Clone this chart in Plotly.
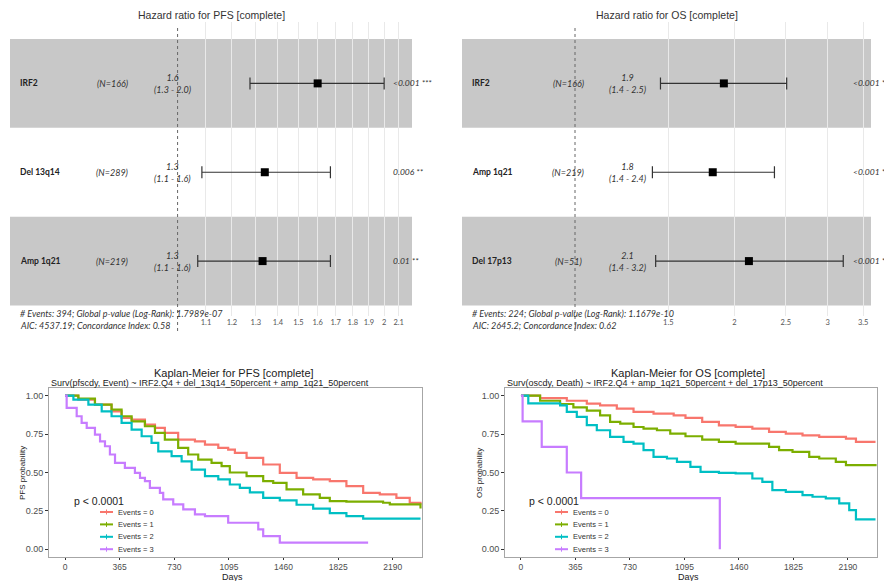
import plotly.graph_objects as go

W, H = 884, 581


def px(x):
    return x / W


def py(y):
    return 1 - y / H


# ---------------- Forest plot data ----------------
pfs_title = "Hazard ratio for PFS [complete]"
pfs_vars = ["IRF2", "Del 13q14", "Amp 1q21"]
pfs_n = ["(N=166)", "(N=289)", "(N=219)"]
pfs_hr = [1.60, 1.34, 1.33]
pfs_lo = [1.275, 1.085, 1.07]
pfs_hi = [2.00, 1.67, 1.67]
pfs_hr_label = ["1.6", "1.3", "1.3"]
pfs_ci_label = ["(1.3 - 2.0)", "(1.1 - 1.6)", "(1.1 - 1.6)"]
pfs_p = ["<0.001 ***", "0.006 **", "0.01 **"]
pfs_ticks = [1.1, 1.2, 1.3, 1.4, 1.5, 1.6, 1.7, 1.8, 1.9, 2.0, 2.1]
pfs_ticktext = ["1.1", "1.2", "1.3", "1.4", "1.5", "1.6", "1.7", "1.8", "1.9", "2", "2.1"]
pfs_footer = ["# Events: 394; Global p-value (Log-Rank): 1.7989e-07",
              "AIC: 4537.19; Concordance Index: 0.58"]

os_title = "Hazard ratio for OS [complete]"
os_vars = ["IRF2", "Amp 1q21", "Del 17p13"]
os_n = ["(N=166)", "(N=219)", "(N=51)"]
os_hr = [1.91, 1.82, 2.13]
os_lo = [1.45, 1.40, 1.42]
os_hi = [2.51, 2.38, 3.21]
os_hr_label = ["1.9", "1.8", "2.1"]
os_ci_label = ["(1.4 - 2.5)", "(1.4 - 2.4)", "(1.4 - 3.2)"]
os_p = ["<0.001 *", "<0.001 *", "<0.001 *"]
os_ticks = [1.5, 2.0, 2.5, 3.0, 3.5]
os_ticktext = ["1.5", "2", "2.5", "3", "3.5"]
os_footer = ["# Events: 224; Global p-value (Log-Rank): 1.1679e-10",
             "AIC: 2645.2; Concordance Index: 0.62"]

# ---------------- Kaplan-Meier data ----------------
group_labels = ["Events = 0", "Events = 1", "Events = 2", "Events = 3"]
group_colors = ["#F8766D", "#7CAE00", "#00BFC4", "#C77CFF"]
day_ticks = [0, 365, 730, 1095, 1460, 1825, 2190]
prob_ticks = [0, 0.25, 0.5, 0.75, 1.0]
prob_ticktext = ["0.00", "0.25", "0.50", "0.75", "1.00"]

km_pfs_title = "Kaplan-Meier for PFS [complete]"
km_pfs_sub = "Surv(pfscdy, Event) ~ IRF2.Q4 + del_13q14_50percent + amp_1q21_50percent"
km_os_title = "Kaplan-Meier for OS [complete]"
km_os_sub = "Surv(oscdy, Death) ~ IRF2.Q4 + amp_1q21_50percent + del_17p13_50percent"

pfs_t0 = [0, 89, 200, 311, 378, 445, 534, 601, 667, 756, 868, 935, 1024, 1090, 1135,
          1213, 1324, 1435, 1547, 1658, 1769, 1880, 1992, 2103, 2214, 2303, 2375]
pfs_s0 = [1.0, 0.974, 0.942, 0.898, 0.855, 0.844, 0.812, 0.790, 0.758, 0.714, 0.703,
          0.682, 0.660, 0.649, 0.628, 0.595, 0.552, 0.498, 0.465, 0.455, 0.444, 0.411,
          0.368, 0.357, 0.335, 0.303, 0.292]
pfs_t1 = [0, 89, 200, 311, 378, 445, 534, 601, 667, 756, 823, 890, 979, 1046, 1101,
          1213, 1324, 1391, 1480, 1591, 1702, 1769, 1880, 1992, 2125, 2170, 2336, 2375]
pfs_s1 = [1.0, 0.981, 0.942, 0.909, 0.866, 0.833, 0.801, 0.758, 0.714, 0.660, 0.617,
          0.584, 0.563, 0.541, 0.500, 0.476, 0.444, 0.433, 0.390, 0.357, 0.335, 0.314,
          0.310, 0.310, 0.303, 0.292, 0.292, 0.266]
pfs_t2 = [0, 56, 156, 245, 311, 378, 445, 512, 578, 623, 712, 779, 846, 935, 1024,
          1101, 1168, 1235, 1324, 1435, 1547, 1658, 1769, 1880, 1992, 2375]
pfs_s2 = [1.0, 0.974, 0.942, 0.898, 0.866, 0.823, 0.779, 0.736, 0.693, 0.638, 0.606,
          0.573, 0.519, 0.476, 0.455, 0.422, 0.400, 0.370, 0.335, 0.318, 0.290, 0.265,
          0.235, 0.216, 0.200, 0.200]
pfs_t3 = [0, 11, 78, 111, 145, 200, 234, 267, 300, 334, 400, 467, 501, 534, 567, 634,
          656, 723, 790, 868, 935, 1090, 1291, 1324, 1435, 2025]
pfs_s3 = [1.0, 0.920, 0.866, 0.823, 0.790, 0.747, 0.703, 0.671, 0.617, 0.563, 0.530,
          0.498, 0.465, 0.444, 0.400, 0.368, 0.325, 0.292, 0.260, 0.227, 0.216, 0.173,
          0.130, 0.086, 0.043, 0.043]

os_t0 = [0, 128, 307, 441, 530, 642, 754, 888, 1023, 1102, 1214, 1326, 1438, 1550,
         1662, 1774, 1886, 1998, 2109, 2177, 2244, 2375]
os_s0 = [1.0, 0.984, 0.967, 0.948, 0.937, 0.916, 0.894, 0.883, 0.872, 0.855, 0.829,
         0.807, 0.797, 0.786, 0.764, 0.753, 0.742, 0.732, 0.732, 0.721, 0.699, 0.699]
os_t1 = [0, 128, 262, 351, 441, 530, 597, 665, 754, 821, 911, 1000, 1102, 1214, 1326,
         1438, 1550, 1662, 1729, 1819, 1931, 1998, 2109, 2177, 2375]
os_s1 = [1.0, 0.967, 0.946, 0.924, 0.903, 0.872, 0.829, 0.818, 0.796, 0.786, 0.775,
         0.753, 0.736, 0.714, 0.699, 0.688, 0.688, 0.667, 0.645, 0.634, 0.602, 0.591,
         0.569, 0.548, 0.540]
os_t2 = [0, 49, 262, 307, 374, 441, 508, 597, 687, 754, 821, 888, 978, 1045, 1135,
         1203, 1326, 1438, 1550, 1617, 1684, 1774, 1886, 1953, 2042, 2132, 2199, 2244, 2375]
os_s2 = [1.0, 0.950, 0.937, 0.894, 0.862, 0.808, 0.775, 0.732, 0.699, 0.688, 0.645,
         0.602, 0.591, 0.569, 0.537, 0.504, 0.498, 0.494, 0.461, 0.439, 0.385, 0.374,
         0.353, 0.342, 0.331, 0.299, 0.255, 0.195, 0.195]
os_t3 = [0, 11, 139, 307, 403, 1332]
os_s3 = [1.0, 0.833, 0.667, 0.500, 0.333, 0.0]

pfs_curves = [(pfs_t0, pfs_s0), (pfs_t1, pfs_s1), (pfs_t2, pfs_s2), (pfs_t3, pfs_s3)]
os_curves = [(os_t0, os_s0), (os_t1, os_s1), (os_t2, os_s2), (os_t3, os_s3)]

TXT = "Lato"
SANS = "Liberation Sans"

fig = go.Figure()
shapes = []
ann = []

# ---------------- Forest plots ----------------
forest_specs = [
    dict(xa="x", ya="y", dom=(10, 412), rng=(-0.2442, 0.3416), vars=pfs_vars, n=pfs_n,
         hr=pfs_hr, lo=pfs_lo, hi=pfs_hi, hrl=pfs_hr_label, cil=pfs_ci_label, p=pfs_p,
         ticks=pfs_ticks, tt=pfs_ticktext, foot=pfs_footer, title=pfs_title,
         name_x=18, n_x=112, hr_x=172, p_x=391, title_x=211),
    dict(xa="x2", ya="y2", dom=(462, 871), rng=(-0.2134, 0.5589), vars=os_vars, n=os_n,
         hr=os_hr, lo=os_lo, hi=os_hi, hrl=os_hr_label, cil=os_ci_label, p=os_p,
         ticks=os_ticks, tt=os_ticktext, foot=os_footer, title=os_title,
         name_x=470, n_x=568, hr_x=627, p_x=851, title_x=667),
]

for i, sp in enumerate(forest_specs):
    nrow = len(sp["vars"])
    rows = [nrow - k for k in range(nrow)]
    for k, r in enumerate(rows):
        if k % 2 == 0:
            shapes.append(dict(type="rect", xref=sp["xa"] + " domain", yref=sp["ya"],
                               x0=0, x1=1, y0=r - 0.5, y1=r + 0.5,
                               fillcolor="#c8c8c8", line=dict(width=0), layer="below"))
    shapes.append(dict(type="line", xref=sp["xa"], yref="paper", x0=1, x1=1,
                       y0=py(331), y1=py(25), line=dict(color="#666", width=1, dash="dot")))
    fig.add_trace(go.Scatter(
        x=sp["hr"], y=rows, mode="markers", xaxis=sp["xa"], yaxis=sp["ya"],
        marker=dict(symbol="square", size=8, color="black"),
        error_x=dict(type="data", symmetric=False,
                     array=[h - m for h, m in zip(sp["hi"], sp["hr"])],
                     arrayminus=[m - l for m, l in zip(sp["hr"], sp["lo"])],
                     color="#333", thickness=1.2, width=6),
        showlegend=False, hoverinfo="skip"))
    for k, r in enumerate(rows):
        yref = sp["ya"]
        ann.append(dict(x=px(sp["name_x"]), y=r, xref="paper", yref=yref, xanchor="left",
                        text="<b>" + sp["vars"][k] + "</b>", showarrow=False,
                        font=dict(family=TXT, size=8.5, color="#222")))
        ann.append(dict(x=px(sp["n_x"]), y=r, xref="paper", yref=yref, xanchor="center",
                        text="<i>" + sp["n"][k] + "</i>", showarrow=False,
                        font=dict(family=TXT, size=9, color="#333")))
        ann.append(dict(x=px(sp["hr_x"]), y=r, xref="paper", yref=yref, xanchor="center",
                        yanchor="middle",
                        text="<i>" + sp["hrl"][k] + "<br>" + sp["cil"][k] + "</i>",
                        showarrow=False, font=dict(family=TXT, size=9, color="#333")))
        ann.append(dict(x=px(sp["p_x"]), y=r, xref="paper", yref=yref, xanchor="left",
                        text="<i>" + sp["p"][k] + "</i>", showarrow=False,
                        font=dict(family=TXT, size=8.5, color="#333")))
    for j, line in enumerate(sp["foot"]):
        ann.append(dict(x=px(sp["name_x"]), y=py(313 + 12 * j), xref="paper", yref="paper",
                        xanchor="left", yanchor="middle", text="<i>" + line + "</i>",
                        showarrow=False, font=dict(family=TXT, size=9, color="#333")))
    ann.append(dict(x=px(sp["title_x"]), y=py(15), xref="paper", yref="paper",
                    xanchor="center", yanchor="middle", text=sp["title"], showarrow=False,
                    font=dict(family=SANS, size=10.5, color="#333")))
    axn = "xaxis" if i == 0 else "xaxis2"
    ayn = "yaxis" if i == 0 else "yaxis2"
    fig.layout[axn] = dict(type="log", domain=[px(sp["dom"][0]), px(sp["dom"][1])],
                           range=list(sp["rng"]), tickvals=sp["ticks"], ticktext=sp["tt"],
                           showgrid=True, gridcolor="#e9e9e9", gridwidth=1, zeroline=False,
                           showline=False, ticks="", anchor=sp["ya"],
                           tickfont=dict(family=TXT, size=7.5, color="#555"))
    fig.layout[ayn] = dict(domain=[py(316), py(22)], range=[0.382, 3.691], visible=False,
                           anchor=sp["xa"])

# ---------------- Kaplan-Meier plots ----------------
km_specs = [
    dict(xa="x3", ya="y3", dom=(49, 422), curves=pfs_curves, title=km_pfs_title,
         sub=km_pfs_sub, title_x=234, ylab="PFS probability", ylab_x=22, days_x=232,
         pv_x=72, leg_x=100),
    dict(xa="x4", ya="y4", dom=(505, 877), curves=os_curves, title=km_os_title,
         sub=km_os_sub, title_x=688, ylab="OS probability", ylab_x=479, days_x=688,
         pv_x=527, leg_x=555),
]

for i, sp in enumerate(km_specs):
    for g, (t, s) in enumerate(sp["curves"]):
        fig.add_trace(go.Scatter(x=t, y=s, mode="lines", xaxis=sp["xa"], yaxis=sp["ya"],
                                 line=dict(shape="hv", color=group_colors[g], width=2.2),
                                 showlegend=False, hoverinfo="skip"))
    axn = "xaxis3" if i == 0 else "xaxis4"
    ayn = "yaxis3" if i == 0 else "yaxis4"
    fig.layout[axn] = dict(domain=[px(sp["dom"][0]), px(sp["dom"][1])], range=[-107, 2385],
                           tickvals=day_ticks, ticks="outside", ticklen=2, tickcolor="#333",
                           showline=True, mirror=True, linecolor="#a6a6a6", linewidth=1,
                           showgrid=False, zeroline=False, anchor=sp["ya"],
                           tickfont=dict(family=SANS, size=8.5, color="#4d4d4d"))
    fig.layout[ayn] = dict(domain=[py(557), py(388)], range=[-0.05, 1.05],
                           tickvals=prob_ticks, ticktext=prob_ticktext, ticks="outside",
                           ticklen=3, tickcolor="#333", showline=True, mirror=True,
                           linecolor="#a6a6a6", linewidth=1, showgrid=False, zeroline=False,
                           anchor=sp["xa"],
                           tickfont=dict(family=SANS, size=9, color="#4d4d4d"))
    ann.append(dict(x=px(sp["title_x"]), y=py(373), xref="paper", yref="paper",
                    xanchor="center", yanchor="middle", text=sp["title"], showarrow=False,
                    font=dict(family=SANS, size=11, color="#222")))
    ann.append(dict(x=px(sp["dom"][0]), y=py(383), xref="paper", yref="paper",
                    xanchor="left", yanchor="middle", text=sp["sub"], showarrow=False,
                    font=dict(family=SANS, size=9, color="#222")))
    ann.append(dict(x=px(sp["days_x"]), y=py(576.5), xref="paper", yref="paper",
                    xanchor="center", yanchor="middle", text="Days", showarrow=False,
                    font=dict(family=SANS, size=9, color="#222")))
    ann.append(dict(x=px(sp["ylab_x"]), y=py(473), xref="paper", yref="paper",
                    xanchor="center", yanchor="middle", text=sp["ylab"], textangle=-90,
                    showarrow=False, font=dict(family=SANS, size=8, color="#222")))
    ann.append(dict(x=px(sp["pv_x"]), y=py(501), xref="paper", yref="paper",
                    xanchor="left", yanchor="middle", text="p < 0.0001", showarrow=False,
                    font=dict(family=SANS, size=10.5, color="#222")))
    for g, lab in enumerate(group_labels):
        yy = 512 + 12.4 * g
        lx = sp["leg_x"]
        shapes.append(dict(type="line", xref="paper", yref="paper", x0=px(lx), x1=px(lx + 13),
                           y0=py(yy), y1=py(yy), line=dict(color=group_colors[g], width=2)))
        shapes.append(dict(type="line", xref="paper", yref="paper", x0=px(lx + 6.5),
                           x1=px(lx + 6.5), y0=py(yy - 2.5), y1=py(yy + 2.5),
                           line=dict(color=group_colors[g], width=1)))
        ann.append(dict(x=px(lx + 16), y=py(yy), xref="paper", yref="paper",
                        xanchor="left", yanchor="middle", text=lab, showarrow=False,
                        font=dict(family=SANS, size=7.5, color="#333")))

fig.update_layout(width=W, height=H, margin=dict(l=0, r=0, t=0, b=0),
                  paper_bgcolor="white", plot_bgcolor="white", showlegend=False,
                  shapes=shapes, annotations=ann)
fig.write_html("out.html", config={"displayModeBar": False},
               post_script="document.body.style.margin='0';")
